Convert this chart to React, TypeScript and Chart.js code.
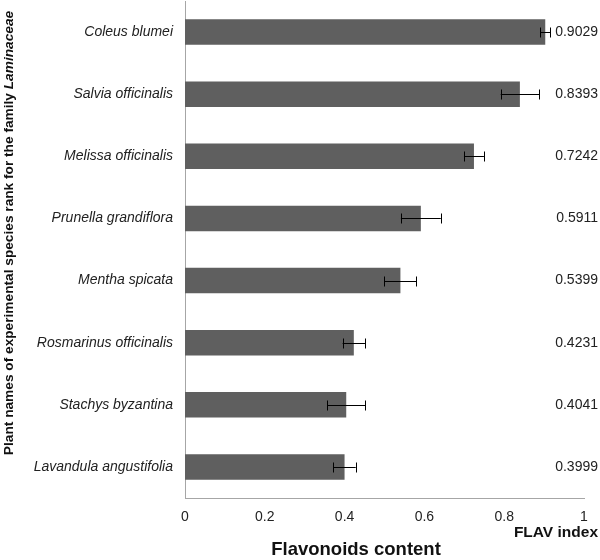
import React, { useEffect, useRef } from "react";
import { Chart, registerables } from "chart.js";

Chart.register(...registerables);

const species = [
  "Coleus blumei",
  "Salvia officinalis",
  "Melissa officinalis",
  "Prunella grandiflora",
  "Mentha spicata",
  "Rosmarinus officinalis",
  "Stachys byzantina",
  "Lavandula angustifolia",
];
const flavIndex = [0.9029, 0.8393, 0.7242, 0.5911, 0.5399, 0.4231, 0.4041, 0.3999];
const errors = [0.012, 0.048, 0.025, 0.05, 0.04, 0.028, 0.048, 0.028];
const valueLabels = ["0.9029", "0.8393", "0.7242", "0.5911", "0.5399", "0.4231", "0.4041", "0.3999"];
const xTicks = [0, 0.2, 0.4, 0.6, 0.8, 1];

const FONT = "'Liberation Sans', Arial, sans-serif";

const extrasPlugin = {
  id: "extras",
  afterDatasetsDraw(chart: any) {
    const ctx = chart.ctx;
    const xs = chart.scales.x;
    const ys = chart.scales.y;
    ctx.save();
    // error bars
    ctx.strokeStyle = "#000";
    ctx.lineWidth = 1;
    flavIndex.forEach((v, i) => {
      const y = Math.round(ys.getPixelForValue(i)) + 0.5;
      const x1 = xs.getPixelForValue(v - errors[i]);
      const x2 = xs.getPixelForValue(v + errors[i]);
      ctx.beginPath();
      ctx.moveTo(x1, y);
      ctx.lineTo(x2, y);
      ctx.moveTo(Math.round(x1) + 0.5, y - 5);
      ctx.lineTo(Math.round(x1) + 0.5, y + 5);
      ctx.moveTo(Math.round(x2) + 0.5, y - 5);
      ctx.lineTo(Math.round(x2) + 0.5, y + 5);
      ctx.stroke();
    });
    // value labels
    ctx.fillStyle = "#222";
    ctx.font = `14px ${FONT}`;
    ctx.textAlign = "right";
    ctx.textBaseline = "middle";
    valueLabels.forEach((t, i) => {
      ctx.fillText(t, 598, ys.getPixelForValue(i));
    });
    // FLAV index
    ctx.font = `bold 15.5px ${FONT}`;
    ctx.fillStyle = "#111";
    ctx.fillText("FLAV index", 598, 533);
    // x title
    ctx.textAlign = "center";
    ctx.font = `bold 18.5px ${FONT}`;
    ctx.fillText("Flavonoids content", 356, 550);
    // y title (mixed style)
    const p1 = "Plant names of experimental species rank for the family ";
    const p2 = "Laminaceae";
    const f1 = `bold 13.7px ${FONT}`;
    const f2 = `italic bold 13.7px ${FONT}`;
    ctx.font = f1;
    const w1 = ctx.measureText(p1).width;
    ctx.font = f2;
    const w2 = ctx.measureText(p2).width;
    const total = w1 + w2;
    ctx.translate(9, 233);
    ctx.rotate(-Math.PI / 2);
    ctx.textAlign = "left";
    ctx.font = f1;
    ctx.fillText(p1, -total / 2, 0);
    ctx.font = f2;
    ctx.fillText(p2, -total / 2 + w1, 0);
    ctx.restore();
  },
};

export default function App() {
  const ref = useRef<HTMLCanvasElement>(null);
  useEffect(() => {
    if (!ref.current) return;
    const chart = new Chart(ref.current, {
      type: "bar",
      data: {
        labels: species,
        datasets: [
          {
            data: flavIndex,
            backgroundColor: "#5f5f5f",
            borderWidth: 0,
            barPercentage: 0.41,
            categoryPercentage: 1,
          },
        ],
      },
      options: {
        indexAxis: "y",
        responsive: false,
        animation: false,
        layout: { padding: { top: 1, right: 16, left: 0, bottom: 0 } },
        plugins: {
          legend: { display: false },
          tooltip: { enabled: false },
          title: { display: false },
        },
        scales: {
          x: {
            type: "linear",
            min: 0,
            max: 1,
            afterBuildTicks: (scale: any) => {
              scale.ticks = xTicks.map((v) => ({ value: v }));
            },
            afterFit: (scale: any) => {
              scale.height = 62;
              scale.paddingLeft = 0;
              scale.paddingRight = 0;
              scale.paddingTop = 0;
              scale.paddingBottom = 0;
            },
            grid: { display: false, drawTicks: false },
            border: { display: true, color: "#a6a6a6", width: 1 },
            ticks: {
              color: "#222",
              font: { family: FONT, size: 14 },
              padding: 11,
              maxRotation: 0,
              callback: (v: any) => String(Number(v)),
            },
          },
          y: {
            type: "category",
            afterFit: (scale: any) => {
              scale.width = 185;
              scale.paddingTop = 0;
              scale.paddingBottom = 0;
              scale.paddingLeft = 0;
              scale.paddingRight = 0;
            },
            grid: { display: false, drawTicks: false },
            border: { display: true, color: "#a6a6a6", width: 1 },
            ticks: {
              color: "#222",
              font: { family: FONT, size: 14, style: "italic" },
              padding: 12,
            },
          },
        },
      },
      plugins: [extrasPlugin],
    });
    return () => chart.destroy();
  }, []);
  return (
    <div style={{ position: "absolute", left: 0, top: 0, width: 600, height: 560, background: "#fff" }}>
      <canvas ref={ref} width={600} height={560} />
    </div>
  );
}
